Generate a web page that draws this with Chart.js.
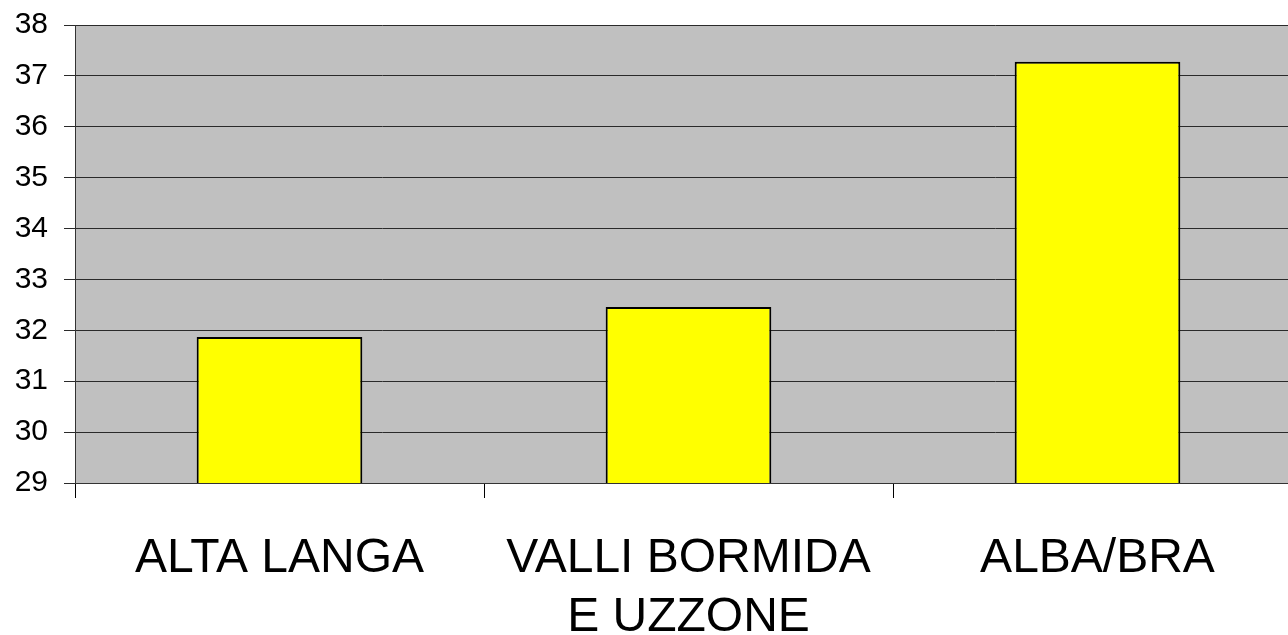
<!DOCTYPE html>
<html>
<head>
<meta charset="utf-8">
<script src="https://cdn.jsdelivr.net/npm/chart.js@4.4.1/dist/chart.umd.min.js"></script>
<style>
  html, body { margin: 0; padding: 0; overflow: hidden; background: #ffffff; width: 1288px; height: 635px; }
  #wrap { position: absolute; left: 0; top: -9px; width: 1302px; height: 644px; }
</style>
</head>
<body>
<div id="wrap"><canvas id="c" width="1302" height="644"></canvas></div>
<script>
const categories = [["ALTA LANGA"], ["VALLI BORMIDA", "E UZZONE"], ["ALBA/BRA"]];
const values = [31.87, 32.46, 37.28];
const yMin = 29;
const yMax = 38;
const yStep = 1;

const plotBg = {
  id: 'plotBg',
  beforeDraw(chart) {
    const { ctx, chartArea: a } = chart;
    ctx.save();
    ctx.fillStyle = '#C0C0C0';
    ctx.fillRect(a.left, a.top, a.right - a.left, a.bottom - a.top);
    ctx.restore();
  }
};

new Chart(document.getElementById('c'), {
  type: 'bar',
  data: {
    labels: categories,
    datasets: [{
      data: values,
      backgroundColor: '#FFFF00',
      borderColor: '#000000',
      borderWidth: 2,
      borderSkipped: false,
      categoryPercentage: 1.0,
      barPercentage: 0.405
    }]
  },
  options: {
    responsive: false,
    animation: false,
    events: [],
    layout: { padding: { top: 17, left: 0, right: 0, bottom: 0 } },
    plugins: { legend: { display: false }, tooltip: { enabled: false } },
    scales: {
      x: {
        grid: { offset: true, drawOnChartArea: false, drawTicks: true, tickLength: 15, color: '#000000', lineWidth: 1 },
        border: { display: true, color: '#333333', width: 1 },
        ticks: {
          color: '#000000',
          padding: 31,
          maxRotation: 0,
          autoSkip: false,
          font: { family: '"Liberation Sans", Arial, sans-serif', size: 48, lineHeight: 1.23 }
        },
        afterFit(scale) { scale.height = 152; }
      },
      y: {
        min: yMin,
        max: yMax,
        grid: { color: '#2a2a2a', lineWidth: 1, tickLength: 11, drawTicks: true },
        border: { display: true, color: '#333333', width: 1 },
        ticks: {
          stepSize: yStep,
          color: '#000000',
          padding: 16,
          font: { family: '"Liberation Sans", Arial, sans-serif', size: 30 }
        },
        afterFit(scale) { scale.width = 75; }
      }
    }
  },
  plugins: [plotBg]
});
</script>
</body>
</html>
